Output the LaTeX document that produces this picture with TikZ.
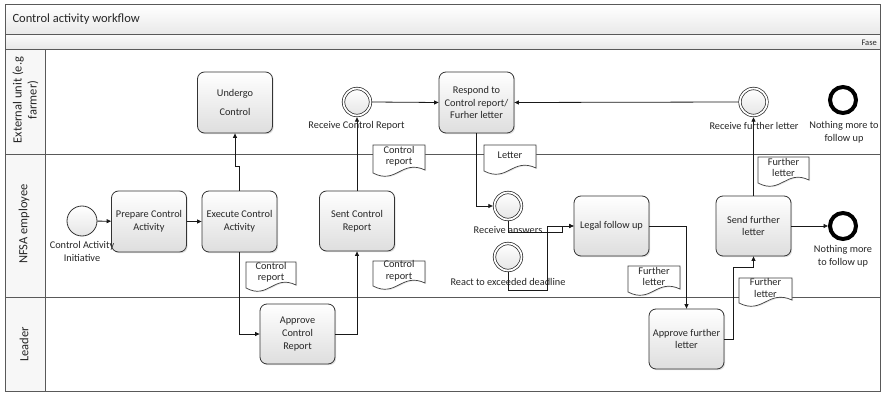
\documentclass[tikz,border=0pt]{standalone}
\usepackage{fontspec}
\setmainfont{Carlito}
\usetikzlibrary{arrows.meta,shadows,calc}
\newcommand{\docshape}[6]{%
  \draw[docline] (#2,#3) -- (#4,#3) -- (#4,{#5-5}) .. controls ({#4-0.45*(#4-#2)},{#5-16}) and ({#2+0.45*(#4-#2)},{#5+10}) .. (#2,{#5-2}) -- cycle;
  \node[doctext] (#1) at ({(#2+#4)/2},{(#3+#5)/2-3.5}) {#6};}
\begin{document}
\begin{tikzpicture}[x=1pt,y=-1pt,
  txt/.style={font=\fontsize{10.3}{12.8}\selectfont, text=black!85, inner sep=1pt},
  task/.style={txt, draw=black!80, line width=0.8pt, rounded corners=7pt, top color=white, bottom color=black!13, minimum width=75pt, minimum height=61pt, align=center, drop shadow={opacity=0.25,shadow xshift=1.2pt,shadow yshift=-1.2pt}},
  startev/.style={circle, draw=black!80, line width=0.8pt, minimum size=30pt, inner sep=0pt, top color=white, bottom color=black!10},
  interev/.style={circle, draw=black!85, line width=0.7pt, double=white, double distance=1.8pt, minimum size=27pt, inner sep=0pt, top color=white, bottom color=black!10, outer sep=1.7pt},
  endev/.style={circle, draw=black, line width=4pt, minimum size=26pt, inner sep=0pt, fill=white},
  flow/.style={draw=black!90, line width=0.8pt, -{Triangle[length=4.5pt,width=4pt]}},
  frame/.style={draw=black!65, line width=1pt},
  docline/.style={draw=black!75, line width=0.7pt, fill=white, drop shadow={opacity=0.2,shadow xshift=1pt,shadow yshift=-1pt}},
  doctext/.style={txt, align=center, font=\fontsize{10.3}{11.5}\selectfont},
  lanetxt/.style={rotate=90, align=center, font=\fontsize{12.5}{15}\selectfont, text=black!85}
]
\useasboundingbox (0,0) rectangle (884,393);
% frame
\fill[white] (0,0) rectangle (884,393);
\fill[top color=white, bottom color=black!9] (5,5) rectangle (880,35);
\fill[top color=black!2, bottom color=black!10] (5,35) rectangle (880,50);
\fill[black!3] (5,50) rectangle (45,391);
\draw[frame] (5,5) rectangle (880,391);
\draw[frame] (5,35) -- (880,35);
\draw[frame] (5,50) -- (880,50);
\draw[frame] (5,155) -- (880,155);
\draw[frame] (5,297) -- (880,297);
\draw[frame] (45,50) -- (45,391);
\node[anchor=west, font=\fontsize{12.5}{15}\selectfont, text=black!85] (title) at (9,19) {Control activity workflow};
\node[anchor=east, font=\fontsize{8.5}{10}\selectfont, text=black!85, inner sep=1pt] (fase) at (878,43) {Fase};
\node[lanetxt] (lane1) at (25.5,100) {External unit (e.g\\farmer)};
\node[lanetxt] (lane2) at (24,224) {NFSA employee};
\node[lanetxt] (lane3) at (24,344.5) {Leader};
% documents
\docshape{d1}{246}{262}{296}{290}{Control\\report}
\docshape{d2}{373}{261}{425}{288}{Control\\report}
\docshape{d3}{373}{145}{425}{175}{Control\\report}
\docshape{d4}{484}{145}{536}{173}{Letter}
\docshape{d5}{628}{266}{680}{294}{Further\\letter}
\docshape{d6}{739}{278}{792}{305}{Further\\letter}
\docshape{d7}{758}{157}{809}{185}{Further\\letter}
% tasks
\node[task] (undergo) at (235,102.5) {Undergo\\[7pt]Control};
\node[task] (prepare) at (149,221.5) {Prepare Control\\Activity};
\node[task] (execute) at (239.5,221.5) {Execute Control\\Activity};
\node[task, minimum height=60pt] (sent) at (357,221) {Sent Control\\Report};
\node[task, minimum height=60pt] (approvec) at (297.5,334) {Approve\\Control\\Report};
\node[task] (respond) at (476.5,102.5) {Respond to\\Control report/\\Furher letter};
\node[task, minimum height=60pt] (legal) at (611.5,226) {Legal follow up};
\node[task, minimum height=60pt] (apf) at (686.5,339) {Approve further\\letter};
\node[task, minimum height=60pt] (send) at (753.5,226) {Send further\\letter};
% events
\node[startev] (start) at (82,221) {};
\node[interev] (rcr) at (357,102) {};
\node[interev] (rfl) at (753.5,102) {};
\node[endev] (end1) at (843,100) {};
\node[interev] (ra) at (508,206) {};
\node[interev] (react) at (508,257) {};
\node[endev] (end2) at (843,226) {};
% labels
\node[txt, align=center] (startlbl) at (82,251.5) {Control Activity\\Initiative};
\node[txt] (rcrlbl) at (356.5,126) {Receive Control Report};
\node[txt] (rfllbl) at (754,126) {Receive further letter};
\node[txt, align=center] (end1lbl) at (844,132.5) {Nothing more to\\follow up};
\node[txt] (ralbl) at (508,230) {Receive answers};
\node[txt] (reactlbl) at (508,282) {React to exceeded deadline};
\node[txt, align=center] (end2lbl) at (843,256) {Nothing more\\to follow up};
% connectors
\coordinate (j1) at (562,232);
\coordinate (j2) at (547,290);
\coordinate (j3) at (733,267);
\draw[flow] (start) -- (prepare);
\draw[flow] (prepare) -- (execute);
\draw[flow] (execute.north) -- ++(0,-24) -| (undergo.south);
\draw[flow] (execute.south) |- (approvec.west);
\draw[flow] (approvec.east) -| (sent.south);
\draw[flow] (sent.north) -- (rcr.south);
\draw[flow] (rcr.east) -- (respond.west);
\draw[flow] (rfl.west) -- (respond.east);
\draw[flow] (respond.south) |- (ra.west);
\draw[flow] (ra.south) |- (j1) |- (legal.west);
\draw[flow] (react.south) |- (j2) |- (legal.west);
\draw[flow] (legal.east) -| (apf.north);
\draw[flow] (apf.east) -| (j3) -| (send.south);
\draw[flow] (send.north) -- (rfl.south);
\draw[flow] (send.east) -- (end2.west);
\end{tikzpicture}
\end{document}
